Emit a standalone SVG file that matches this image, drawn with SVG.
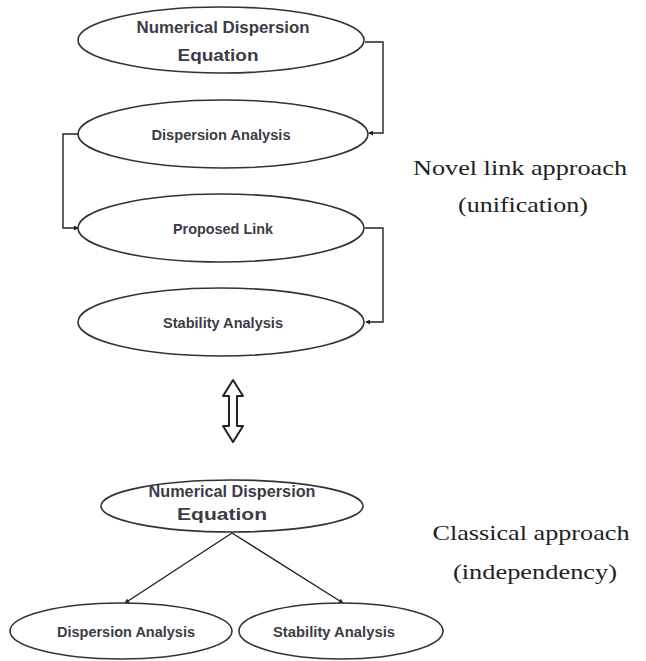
<svg xmlns="http://www.w3.org/2000/svg" width="646" height="661" viewBox="0 0 646 661">
<defs>
<marker id="dot" viewBox="0 0 6 6" refX="5" refY="3" markerWidth="5" markerHeight="5" orient="auto" markerUnits="userSpaceOnUse">
<path d="M0,0 L6,3 L0,6 Z" fill="#222"/>
</marker>
<style>
.node ellipse{fill:#fff;stroke:#333;stroke-width:1.6}
.lbl{font-family:"Liberation Sans","DejaVu Sans",sans-serif;font-weight:bold;fill:#3c3c46;text-anchor:middle}
.big{font-size:17px}
.sm{font-size:14px}
.side{font-family:"Liberation Serif","Times New Roman",serif;font-size:21px;fill:#222;text-anchor:middle}
.conn{fill:none;stroke:#222;stroke-width:1.4}
</style>
</defs>
<rect width="646" height="661" fill="#fff"/>
<g id="connectors">
<path class="conn" d="M365,42 H383 V133 H369" marker-end="url(#dot)"/>
<path class="conn" d="M79,134 H63 V228 H78" marker-end="url(#dot)"/>
<path class="conn" d="M365,228 H383 V322 H366" marker-end="url(#dot)"/>
<path class="conn" d="M232,533 L125,603" marker-end="url(#dot)"/>
<path class="conn" d="M232,533 L343,603" marker-end="url(#dot)"/>
</g>
<g id="n1" class="node">
<ellipse cx="221" cy="40" rx="143" ry="33"/>
<text class="lbl big" x="223" y="33" textLength="173" lengthAdjust="spacingAndGlyphs">Numerical Dispersion</text>
<text class="lbl big" x="218" y="61" textLength="81" lengthAdjust="spacingAndGlyphs">Equation</text>
</g>
<g id="n2" class="node">
<ellipse cx="223" cy="134" rx="145" ry="34"/>
<text class="lbl sm" x="221" y="140" textLength="139" lengthAdjust="spacingAndGlyphs">Dispersion Analysis</text>
</g>
<g id="n3" class="node">
<ellipse cx="221" cy="228" rx="143" ry="34"/>
<text class="lbl sm" x="223" y="234" textLength="100" lengthAdjust="spacingAndGlyphs">Proposed Link</text>
</g>
<g id="n4" class="node">
<ellipse cx="221" cy="322" rx="143" ry="34"/>
<text class="lbl sm" x="223" y="328" textLength="120" lengthAdjust="spacingAndGlyphs">Stability Analysis</text>
</g>
<g id="dblarrow">
<path d="M233,380 L243,396 L237,396 L237,426 L243,426 L233,442 L223,426 L229,426 L229,396 L223,396 Z" fill="#fff" stroke="#222" stroke-width="2" stroke-linejoin="round"/>
</g>
<g id="n5" class="node">
<ellipse cx="232" cy="506" rx="131" ry="26"/>
<text class="lbl big" x="232" y="497" textLength="167" lengthAdjust="spacingAndGlyphs">Numerical Dispersion</text>
<text class="lbl big" x="222" y="520" textLength="90" lengthAdjust="spacingAndGlyphs">Equation</text>
</g>
<g id="n6" class="node">
<ellipse cx="121" cy="631" rx="111" ry="28"/>
<text class="lbl sm" x="126" y="637" textLength="138" lengthAdjust="spacingAndGlyphs">Dispersion Analysis</text>
</g>
<g id="n7" class="node">
<ellipse cx="341" cy="631" rx="102" ry="28"/>
<text class="lbl sm" x="334" y="637" textLength="122" lengthAdjust="spacingAndGlyphs">Stability Analysis</text>
</g>
<g id="labels">
<text class="side" x="520" y="175" textLength="214" lengthAdjust="spacingAndGlyphs">Novel link approach</text>
<text class="side" x="523" y="212" textLength="130" lengthAdjust="spacingAndGlyphs">(unification)</text>
<text class="side" x="531" y="540" textLength="197" lengthAdjust="spacingAndGlyphs">Classical approach</text>
<text class="side" x="535" y="579" textLength="164" lengthAdjust="spacingAndGlyphs">(independency)</text>
</g>
</svg>
